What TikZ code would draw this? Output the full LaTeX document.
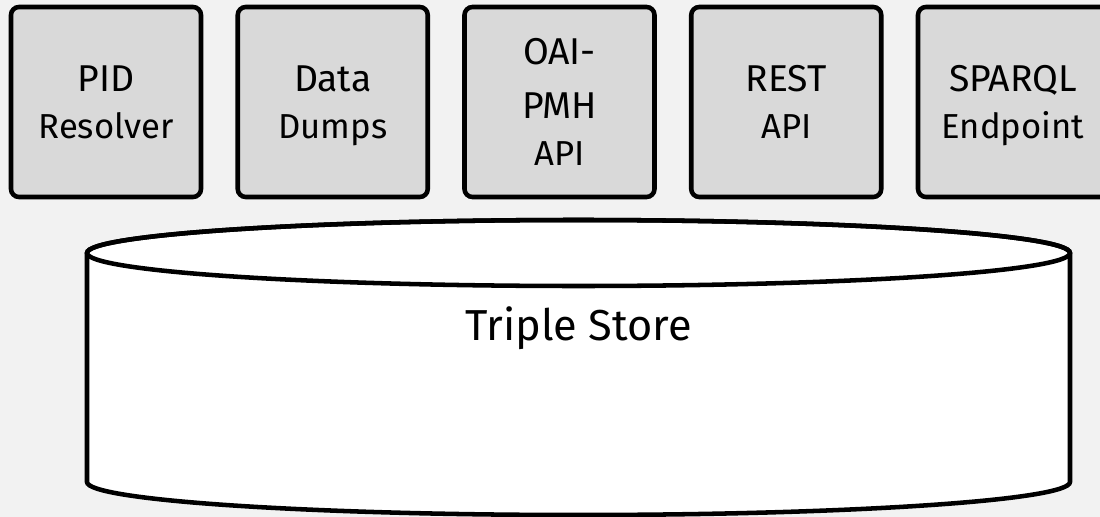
\documentclass[tikz,border=0pt]{standalone}
\usepackage{fontspec}
\setmainfont{Fira Sans}
\definecolor{pagebg}{HTML}{F2F2F2}
\definecolor{boxgray}{HTML}{D9D9D9}
\tikzset{
  service/.style={draw=black, line width=3.4pt, fill=boxgray, rounded corners=6pt,
    minimum width=142.5pt, minimum height=142.5pt, inner sep=0pt,
    align=center, text depth=0pt, font=\fontsize{28}{35}\selectfont},
  storeline/.style={draw=black, line width=3.4pt},
  storelabel/.style={anchor=base, font=\fontsize{32.5}{38}\selectfont}
}
\newcommand{\sublbl}[1]{{\fontsize{26}{35}\selectfont #1}}
\begin{document}
\begin{tikzpicture}[x=0.75pt, y=-0.75pt]
  % canvas in pixel units, y pointing down
  \useasboundingbox (0,0) rectangle (1100,517);
  \fill[pagebg] (0,0) rectangle (1100,517);
  \clip (0,0) rectangle (1100,517);

  % access services
  \node[service] (pid)    at (106,102)    {PID\\\sublbl{Resolver}};
  \node[service] (dumps)  at (332.75,102) {Data\\\sublbl{Dumps}};
  \node[service] (oai)    at (559.5,102)  {OAI-\\[5.5pt]PMH\\\sublbl{API}};
  \node[service] (rest)   at (786.25,102) {REST\\\sublbl{API}};
  \node[service] (sparql) at (1013,102)   {SPARQL\\\sublbl{Endpoint}};

  % triple store cylinder
  \filldraw[storeline, fill=white]
    (87,253) -- (87,482)
    arc[start angle=180, end angle=0, x radius=491.5, y radius=33]
    -- (1070,253)
    arc[start angle=0, end angle=-180, x radius=491.5, y radius=33]
    -- cycle;
  \draw[storeline] (578.5,253) ellipse [x radius=491.5, y radius=33];
  \node[storelabel] (store) at (578.5,340) {Triple Store};
\end{tikzpicture}
\end{document}
